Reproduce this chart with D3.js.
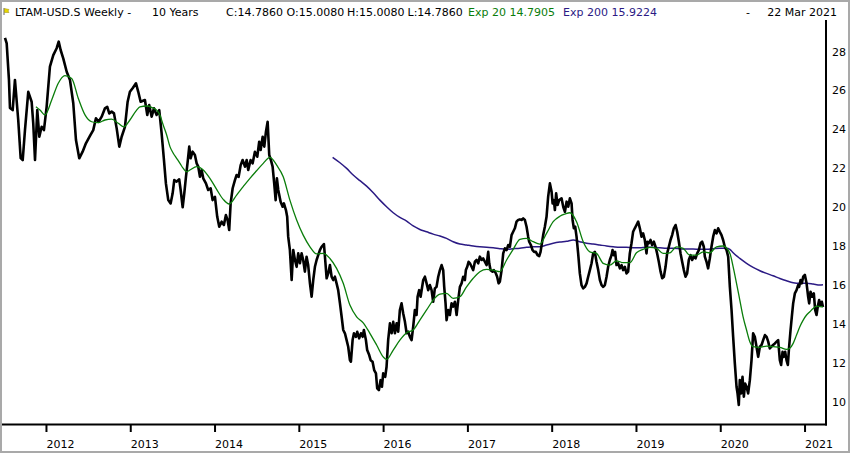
<!DOCTYPE html>
<html><head><meta charset="utf-8">
<script src="https://cdn.jsdelivr.net/npm/d3@7"></script>
<style>html,body{margin:0;padding:0;background:#fff;}svg{display:block;}</style>
</head><body><svg id="c" width="850" height="454"></svg>
<script>
// ---- data (decimal year, value) ----
const price = [
[2011.514,28.62],[2011.534,28.34],[2011.561,26.46],[2011.573,25.02],[2011.605,24.91],[2011.632,26.46],[2011.671,24.40],[2011.700,22.44],[2011.724,22.34],[2011.751,23.88],[2011.790,25.85],[2011.830,25.34],[2011.849,24.24],[2011.870,22.34],[2011.897,24.91],[2011.921,23.54],[2011.949,24.05],[2011.976,23.88],[2012.008,25.08],[2012.047,27.14],[2012.087,27.74],[2012.127,28.09],[2012.151,28.43],[2012.174,28.00],[2012.205,27.57],[2012.246,26.88],[2012.285,26.46],[2012.324,25.26],[2012.356,23.37],[2012.395,22.43],[2012.435,22.77],[2012.474,23.20],[2012.522,23.58],[2012.561,23.88],[2012.593,24.49],[2012.625,24.31],[2012.661,24.57],[2012.700,25.00],[2012.727,25.08],[2012.751,24.74],[2012.779,24.83],[2012.807,24.74],[2012.839,23.97],[2012.870,23.03],[2012.898,23.54],[2012.937,24.05],[2012.969,25.34],[2012.996,25.85],[2013.028,26.03],[2013.068,26.29],[2013.095,25.85],[2013.123,25.34],
[2013.174,25.43],[2013.202,24.66],[2013.225,25.17],[2013.254,24.57],[2013.281,25.00],[2013.313,24.66],[2013.344,24.91],[2013.372,23.72],[2013.400,22.34],[2013.423,21.14],[2013.451,20.28],[2013.479,20.11],[2013.503,20.63],[2013.522,21.31],[2013.550,21.23],[2013.581,21.35],[2013.598,20.80],[2013.622,19.91],[2013.641,20.63],[2013.661,21.48],[2013.681,22.25],[2013.700,23.03],[2013.716,22.43],[2013.740,22.77],[2013.767,22.60],[2013.788,22.17],[2013.807,22.00],[2013.827,21.48],[2013.847,21.83],[2013.866,21.40],[2013.898,21.14],[2013.925,20.80],[2013.954,20.89],[2013.977,20.28],[2014.005,20.45],[2014.032,19.42],[2014.056,18.91],[2014.084,19.17],[2014.111,19.00],[2014.135,19.51],[2014.155,19.25],[2014.174,18.74],[2014.191,20.11],[2014.215,20.89],[2014.242,21.31],[2014.262,21.57],[2014.286,21.48],[2014.310,22.08],[2014.333,22.34],[2014.361,22.00],[2014.381,22.34],[2014.400,21.83],[2014.428,22.34],[2014.452,22.17],[2014.479,22.77],[2014.507,22.51],[2014.530,23.28],[2014.547,22.86],[2014.571,23.54],[2014.590,23.03],[2014.610,23.80],[2014.630,24.31],[2014.649,22.60],[2014.669,22.34],[2014.689,22.00],[2014.708,21.14],[2014.725,20.28],[2014.740,21.40],[2014.756,20.80],
[2014.784,20.20],[2014.808,19.94],[2014.823,20.11],[2014.847,19.77],[2014.862,19.42],[2014.874,18.40],[2014.894,17.71],[2014.915,16.17],[2014.934,17.71],[2014.954,17.20],[2014.974,16.85],[2014.993,17.54],[2015.013,17.03],[2015.033,17.54],[2015.052,17.20],[2015.072,16.60],[2015.092,17.37],[2015.111,16.94],[2015.132,16.00],[2015.152,15.31],[2015.171,16.17],[2015.191,16.85],[2015.211,17.20],[2015.230,17.45],[2015.250,17.71],[2015.270,17.88],[2015.298,18.02],[2015.313,17.20],[2015.330,16.26],[2015.349,16.51],[2015.369,16.94],[2015.389,16.34],[2015.408,16.17],[2015.428,16.34],[2015.448,16.00],[2015.467,15.65],[2015.488,14.97],[2015.508,14.28],[2015.527,13.60],[2015.547,13.43],[2015.567,13.08],[2015.586,12.74],[2015.606,12.05],[2015.618,11.97],[2015.638,13.08],[2015.654,13.43],[2015.677,13.25],[2015.693,13.51],[2015.716,13.17],[2015.737,13.43],[2015.757,13.25],[2015.772,13.60],[2015.796,13.08],[2015.811,12.57],[2015.835,12.31],[2015.852,12.05],[2015.875,11.97],[2015.894,11.54],[2015.915,11.37],[2015.930,10.60],[2015.950,10.51],[2015.970,11.02],[2015.986,10.68],[2016.001,11.37],[2016.025,11.19],[2016.041,11.71],[2016.060,13.08],[2016.081,13.94],[2016.101,13.43],[2016.120,14.02],[2016.140,13.43],[2016.160,13.94],[2016.179,13.51],[2016.199,14.63],[2016.219,14.97],[2016.238,14.46],[2016.259,14.02],[2016.279,13.43],[2016.298,13.51],[2016.318,13.25],[2016.338,13.08],[2016.357,13.77],[2016.377,14.63],[2016.397,14.37],[2016.409,15.31],[2016.428,15.65],[2016.445,15.31],
[2016.476,16.17],[2016.496,16.34],[2016.516,16.00],[2016.535,15.65],[2016.555,15.91],[2016.575,15.65],[2016.594,15.05],[2016.614,15.74],[2016.634,15.82],[2016.654,16.34],[2016.674,16.68],[2016.694,16.94],[2016.713,16.68],[2016.725,15.82],[2016.741,14.97],[2016.753,14.11],[2016.772,14.63],[2016.792,14.37],[2016.812,14.97],[2016.831,14.80],[2016.852,15.05],[2016.872,14.37],[2016.891,15.14],[2016.911,15.82],[2016.931,16.00],[2016.950,16.34],[2016.970,16.17],[2016.982,16.68],[2016.998,16.85],[2017.014,17.11],[2017.030,17.03],[2017.050,16.85],[2017.069,16.68],[2017.089,17.11],[2017.109,17.20],[2017.128,17.03],[2017.148,17.37],[2017.168,17.20],[2017.187,17.28],[2017.207,17.11],[2017.228,16.94],[2017.247,17.62],[2017.259,17.03],[2017.275,16.68],[2017.299,16.60],[2017.314,16.68],[2017.338,16.51],[2017.353,16.34],[2017.370,16.00],[2017.385,16.08],[2017.406,16.68],[2017.425,17.54],[2017.445,17.80],[2017.465,17.71],[2017.484,17.97],[2017.504,17.88],[2017.524,18.48],[2017.543,18.65],[2017.563,18.83],[2017.583,19.17],[2017.603,19.26],[2017.623,19.29],[2017.643,19.26],[2017.662,19.34],[2017.682,19.26],[2017.702,18.91],[2017.721,18.40],[2017.733,18.14],[2017.753,17.97],[2017.773,17.71],[2017.792,17.62],[2017.812,17.62],[2017.832,17.45],[2017.852,17.40],[2017.868,17.62],[2017.884,18.06],[2017.899,18.48],[2017.919,18.91],[2017.939,19.42],[2017.958,20.45],[2017.979,21.14],[2017.999,20.71],[2018.011,20.11],[2018.026,20.28],[2018.038,19.77],[2018.053,20.63],[2018.070,20.03],[2018.089,20.28],
[2018.117,20.37],[2018.137,19.94],[2018.157,19.68],[2018.177,20.20],[2018.196,19.94],[2018.216,20.37],[2018.236,20.11],[2018.248,19.26],[2018.263,18.83],[2018.279,18.91],[2018.295,18.40],[2018.314,17.54],[2018.334,16.51],[2018.354,15.91],[2018.374,15.74],[2018.394,15.82],[2018.414,16.00],[2018.433,16.34],[2018.453,16.68],[2018.473,17.03],[2018.492,17.54],[2018.512,17.62],[2018.532,17.11],[2018.552,16.68],[2018.572,16.17],[2018.592,15.91],[2018.611,15.82],[2018.631,15.91],[2018.651,16.34],[2018.670,16.85],[2018.690,17.20],[2018.710,17.45],[2018.722,17.71],[2018.737,17.45],[2018.753,17.62],[2018.769,16.94],[2018.789,17.03],[2018.809,16.77],[2018.829,16.94],[2018.848,16.68],[2018.868,16.85],[2018.888,16.51],[2018.907,16.60],[2018.927,17.54],[2018.947,18.06],[2018.966,18.65],[2018.986,18.83],[2019.006,19.00],[2019.026,19.17],[2019.046,18.83],[2019.066,18.40],[2019.085,18.57],[2019.105,18.23],[2019.125,17.54],[2019.137,18.14],[2019.152,18.06],[2019.172,18.23],[2019.192,17.97],[2019.212,18.14],[2019.232,17.88],[2019.251,17.54],[2019.271,17.11],[2019.292,16.60],[2019.311,16.26],[2019.331,16.34],[2019.351,16.85],[2019.370,17.54],[2019.390,17.88],[2019.410,18.23],[2019.429,18.48],[2019.449,18.83],[2019.470,19.00],[2019.489,18.65],[2019.509,18.14],[2019.529,17.54],[2019.548,17.11],[2019.568,16.68],[2019.588,16.34],[2019.607,16.51],[2019.627,17.20],[2019.648,17.45],[2019.667,17.20],[2019.687,17.37],[2019.707,17.28],[2019.726,17.54],[2019.746,17.71],[2019.766,18.06],[2019.785,18.14],[2019.805,17.88],
[2019.817,17.37],[2019.837,17.11],[2019.856,16.77],[2019.876,17.28],[2019.896,17.88],[2019.916,18.40],[2019.936,18.74],[2019.956,18.57],[2019.975,18.83],[2019.995,18.65],[2020.015,18.48],[2020.034,18.23],[2020.054,17.88],[2020.075,17.71],[2020.094,17.37],[2020.114,15.82],[2020.134,14.63],[2020.153,13.25],[2020.173,11.88],[2020.193,10.68],[2020.205,10.34],[2020.220,9.74],[2020.232,11.02],[2020.248,10.34],[2020.264,11.19],[2020.280,10.17],[2020.295,10.85],[2020.312,10.68],[2020.331,10.34],[2020.351,11.02],[2020.371,12.05],[2020.390,13.43],[2020.410,13.25],[2020.430,12.74],[2020.450,12.22],[2020.470,12.74],[2020.490,12.83],[2020.509,13.08],[2020.530,13.34],[2020.550,13.25],[2020.569,13.00],[2020.588,12.65],[2020.608,12.74],[2020.627,12.83],[2020.648,12.91],[2020.668,13.00],[2020.687,13.08],[2020.707,12.05],[2020.722,11.80],[2020.739,12.48],[2020.754,12.22],[2020.770,12.48],[2020.786,12.05],[2020.802,11.80],[2020.817,12.74],[2020.834,13.60],[2020.849,14.28],[2020.865,14.97],[2020.885,15.48],[2020.905,15.65],[2020.924,15.91],[2020.936,15.82],[2020.953,16.17],[2020.968,16.00],[2020.984,16.34],[2021.004,16.43],[2021.024,16.00],[2021.043,15.31],[2021.055,14.97],[2021.071,15.57],[2021.090,15.31],[2021.110,15.48],[2021.126,14.63],[2021.142,14.37],[2021.157,14.80],[2021.173,15.14],[2021.189,14.88],[2021.205,15.05],[2021.219,14.786]
];
const ema20 = [
[2011.881,25.08],[2011.929,24.91],[2011.988,24.66],[2012.068,25.43],[2012.146,26.29],[2012.225,26.68],[2012.305,26.54],[2012.383,25.52],[2012.463,24.66],[2012.542,24.31],[2012.620,24.26],[2012.700,24.40],[2012.779,24.44],[2012.858,24.23],[2012.925,24.05],[2012.996,24.40],[2013.076,24.91],[2013.115,25.08],[2013.195,25.12],[2013.254,25.05],[2013.313,24.91],[2013.352,24.66],[2013.391,24.14],[2013.432,23.63],[2013.471,23.03],[2013.510,22.69],[2013.550,22.43],[2013.590,22.17],[2013.629,21.91],[2013.669,21.74],[2013.708,21.83],[2013.788,22.00],[2013.866,21.83],[2013.945,21.40],[2014.025,20.83],[2014.103,20.32],[2014.174,20.08],[2014.262,20.54],[2014.340,20.97],[2014.420,21.40],[2014.499,21.79],[2014.578,22.17],[2014.657,22.48],[2014.737,22.08],[2014.815,21.48],[2014.894,20.28],[2014.974,19.26],[2015.052,18.48],[2015.132,17.88],[2015.211,17.51],[2015.289,17.54],[2015.369,17.28],[2015.448,16.77],[2015.527,16.00],[2015.606,14.88],[2015.686,14.28],[2015.764,13.97],[2015.843,13.43],[2015.923,12.83],[2016.001,12.22],[2016.041,12.09],[2016.120,12.57],[2016.199,13.08],[2016.279,13.46],[2016.357,13.60],[2016.436,14.11],[2016.516,14.63],[2016.594,15.14],[2016.674,15.45],[2016.753,15.48],[2016.831,15.23],[2016.911,15.31],[2016.990,15.82],[2017.069,16.26],[2017.148,16.60],[2017.228,16.72],[2017.306,16.68],[2017.385,16.60],[2017.465,17.20],[2017.543,17.75],[2017.623,18.26],[2017.702,18.31],[2017.780,18.14],[2017.860,18.02],[2017.939,18.57],[2018.018,19.17],[2018.097,19.45],[2018.157,19.56],[2018.216,19.63],[2018.295,19.17],[2018.374,18.14],[2018.453,17.62],[2018.532,17.54],[2018.611,17.03],[2018.690,16.94],[2018.769,17.16],[2018.848,17.06],[2018.927,17.06],[2019.006,17.57],[2019.085,17.75],[2019.164,17.85],[2019.244,17.80],[2019.322,17.54],[2019.402,17.57],[2019.481,17.88],[2019.560,17.80],[2019.639,17.45],[2019.719,17.45],[2019.797,17.62],[2019.876,17.57],[2019.956,17.88],[2020.034,17.92],[2020.114,17.54],[2020.153,16.85],[2020.193,16.00],[2020.232,15.14],[2020.271,14.28],[2020.312,13.60],[2020.351,13.00],[2020.390,12.74],[2020.470,12.71],[2020.549,12.77],[2020.627,12.74],[2020.707,12.71],[2020.786,12.60],[2020.825,12.66],[2020.865,12.91],[2020.905,13.34],[2020.944,13.77],[2020.984,14.11],[2021.024,14.37],[2021.063,14.54],[2021.102,14.71],[2021.142,14.83],[2021.181,14.80],[2021.219,14.7905]
];
const ema200 = [
[2015.401,22.48],[2015.488,22.20],[2015.567,21.91],[2015.645,21.57],[2015.725,21.28],[2015.804,21.00],[2015.883,20.66],[2015.962,20.28],[2016.041,19.94],[2016.120,19.63],[2016.199,19.39],[2016.279,19.20],[2016.357,18.95],[2016.436,18.77],[2016.516,18.65],[2016.594,18.53],[2016.674,18.43],[2016.753,18.31],[2016.831,18.14],[2016.911,18.02],[2016.990,17.97],[2017.069,17.92],[2017.148,17.88],[2017.228,17.85],[2017.306,17.83],[2017.385,17.78],[2017.465,17.75],[2017.543,17.78],[2017.623,17.81],[2017.702,17.85],[2017.780,17.88],[2017.860,17.88],[2017.939,17.97],[2018.018,18.06],[2018.097,18.12],[2018.177,18.16],[2018.255,18.23],[2018.334,18.14],[2018.414,18.06],[2018.492,18.02],[2018.572,17.97],[2018.651,17.92],[2018.729,17.88],[2018.809,17.85],[2018.888,17.85],[2018.966,17.83],[2019.046,17.83],[2019.125,17.85],[2019.204,17.85],[2019.283,17.83],[2019.363,17.80],[2019.441,17.80],[2019.521,17.78],[2019.600,17.76],[2019.678,17.76],[2019.758,17.75],[2019.837,17.75],[2019.916,17.78],[2019.995,17.80],[2020.075,17.80],[2020.114,17.75],[2020.153,17.57],[2020.232,17.28],[2020.312,17.03],[2020.390,16.82],[2020.470,16.65],[2020.549,16.51],[2020.627,16.39],[2020.707,16.25],[2020.786,16.13],[2020.865,16.03],[2020.944,16.00],[2021.024,16.00],[2021.102,15.96],[2021.181,15.91],[2021.219,15.9224]
];
const yTicks = [10,12,14,16,18,20,22,24,26,28];
const xTickYears = [2012,2013,2014,2015,2016,2017,2018,2019,2020,2021];
const titleText = "LTAM-USD.S Weekly -";
const periodText = "10 Years";
const ohlcLabels = ["C:14.7860","O:15.0080","H:15.0080","L:14.7860"];
const ema20Label = "Exp 20 14.7905";
const ema200Label = "Exp 200 15.9224";
const dateLabel = "22 Mar 2021";

// ---- drawing ----
const svg = d3.select("#c");
const FONT = "'DejaVu Sans', Verdana, sans-serif";
const GREEN = "#0a7d0a", PURPLE = "#2b1a84";

const x = d3.scaleLinear().domain([price[0][0], price[price.length-1][0]]).range([5, 823]);
const y = d3.scaleLinear().domain([10, 28]).range([400, 50]);

// frame
svg.append("rect").attr("x",1).attr("y",1).attr("width",848).attr("height",451)
  .attr("fill","#fff").attr("stroke","#a9a9a9").attr("stroke-width",2);

// lines
const line = d3.line().x(d=>x(d[0])).y(d=>y(d[1]));
const smooth = d3.line().x(d=>x(d[0])).y(d=>y(d[1])).curve(d3.curveMonotoneX);
svg.append("path").datum(ema200).attr("d",smooth).attr("fill","none")
  .attr("stroke",PURPLE).attr("stroke-width",1.5);
svg.append("path").datum(price).attr("d",line).attr("fill","none")
  .attr("stroke","#000").attr("stroke-width",2.6).attr("stroke-linejoin","round");
svg.append("path").datum(ema20).attr("d",smooth).attr("fill","none")
  .attr("stroke",GREEN).attr("stroke-width",1.3);

// axes lines
svg.append("line").attr("x1",2).attr("x2",827).attr("y1",424.5).attr("y2",424.5)
  .attr("stroke","#000").attr("stroke-width",2);
svg.append("line").attr("x1",826).attr("x2",826).attr("y1",20).attr("y2",425.5)
  .attr("stroke","#000").attr("stroke-width",2);

// bottom axis
const xa = svg.append("g").attr("transform","translate(0,425)")
  .call(d3.axisBottom(x).tickValues(xTickYears).tickSize(7).tickFormat(d3.format("d")));
xa.select(".domain").remove();
xa.selectAll(".tick line").attr("stroke","#000").attr("stroke-width",2);
xa.selectAll(".tick text").attr("text-anchor","start").attr("x",0).attr("y",15)
  .attr("dy","0.71em").style("font-family",FONT).style("font-size","11px").attr("fill","#000");

// right axis
const ya = svg.append("g").attr("transform","translate(826,1.5)")
  .call(d3.axisRight(y).tickValues(yTicks).tickSize(0).tickPadding(6));
ya.select(".domain").remove();
ya.selectAll(".tick text").style("font-family",FONT).style("font-size","11px").attr("fill","#000");

// header
const hdr = svg.append("g").style("font-family",FONT).style("font-size","11px");
// flag icon
hdr.append("line").attr("x1",4).attr("x2",4).attr("y1",8).attr("y2",15).attr("stroke","#666").attr("stroke-width",1);
hdr.append("path").attr("d","M4.5,8.5 L9,9.5 L8,11 L9,12.5 L4.5,12.5 Z").attr("fill","#e8d800").attr("stroke","#9a8a00").attr("stroke-width",0.5);
const segs = [
  {t:titleText, x:15, c:"#000"},
  {t:periodText, x:152, c:"#000"},
  {t:ohlcLabels[0], x:226, c:"#000"},
  {t:ohlcLabels[1], x:286.5, c:"#000"},
  {t:ohlcLabels[2], x:347, c:"#000"},
  {t:ohlcLabels[3], x:407.5, c:"#000"},
  {t:ema20Label, x:468, c:GREEN},
  {t:ema200Label, x:563, c:PURPLE},
  {t:"-", x:746, c:"#000"},
  {t:dateLabel, x:837, c:"#000", anchor:"end"}
];
hdr.selectAll("text").data(segs).join("text")
  .attr("x",d=>d.x).attr("y",16).attr("fill",d=>d.c)
  .attr("text-anchor",d=>d.anchor||"start").text(d=>d.t);
</script></body></html>
